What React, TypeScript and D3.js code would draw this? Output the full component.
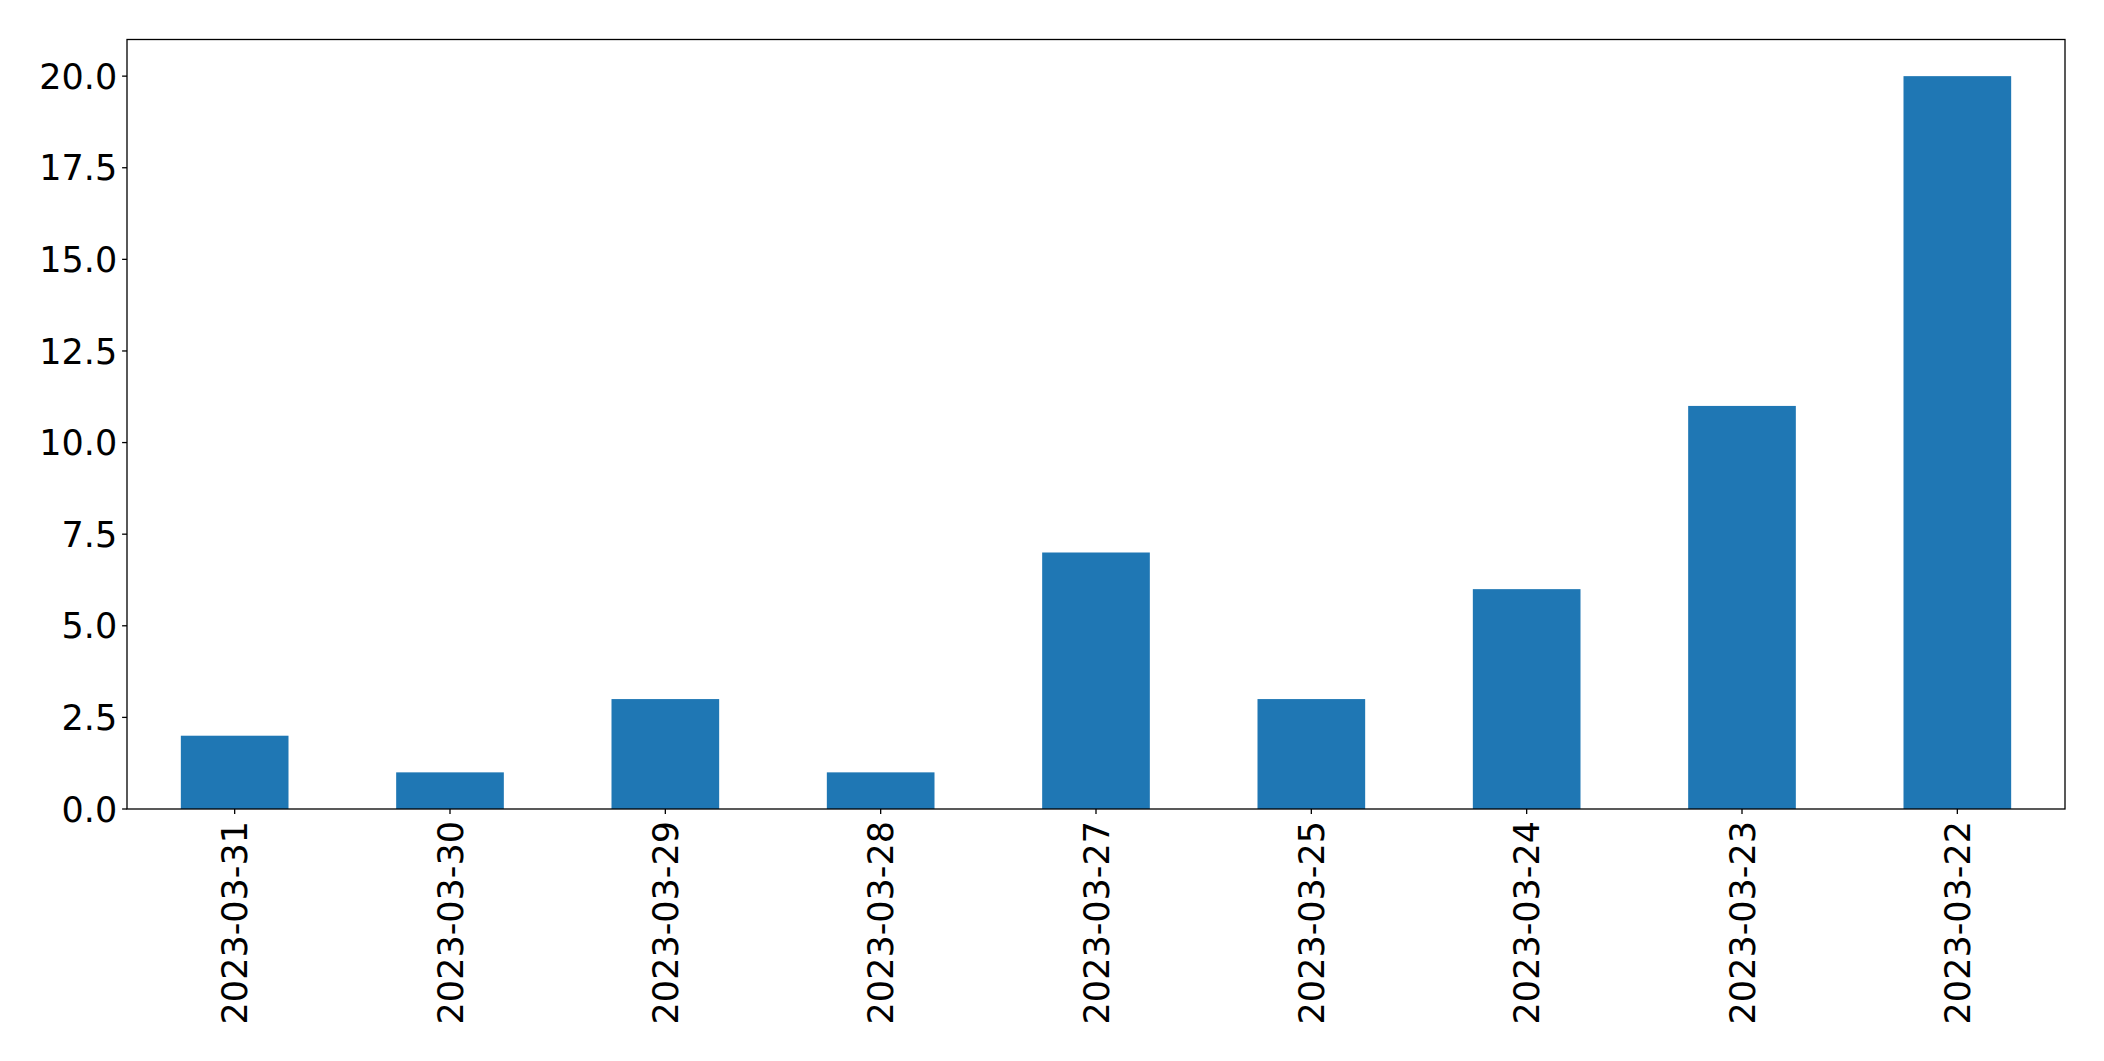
import React from "react";
import * as d3 from "d3";

const categories = ["2023-03-31", "2023-03-30", "2023-03-29", "2023-03-28", "2023-03-27", "2023-03-25", "2023-03-24", "2023-03-23", "2023-03-22"];
const values = [2, 1, 3, 1, 7, 3, 6, 11, 20];
const yTicks = [0, 2.5, 5, 7.5, 10, 12.5, 15, 17.5, 20];

export default function App() {
  const W = 2104, H = 1061;
  const left = 127, right = 2065, top = 39.5, bottom = 809;
  const x = d3.scaleBand<string>().domain(categories).range([left, right]).paddingInner(0.5).paddingOuter(0.25);
  const y = d3.scaleLinear().domain([0, 21]).range([bottom, top]);
  const font = "DejaVu Sans";
  const fs = 35;
  return (
    <svg width={W} height={H} style={{ position: "absolute", left: 0, top: 0, background: "#fff" }}>
      <rect x={0} y={0} width={W} height={H} fill="#fff" />
      {categories.map((c, i) => (
        <rect key={c} x={x(c)!} y={y(values[i])} width={x.bandwidth()} height={y(0) - y(values[i])} fill="#1f77b4" />
      ))}
      <rect x={left} y={top} width={right - left} height={bottom - top} fill="none" stroke="#000" strokeWidth={1.3} />
      {yTicks.map((t) => (
        <g key={t}>
          <line x1={left - 4.9} x2={left} y1={y(t)} y2={y(t)} stroke="#000" strokeWidth={1.3} />
          <text x={left - 9.8} y={y(t)} dy="0.36em" textAnchor="end" fontFamily={font} fontSize={fs} fill="#000">
            {t.toFixed(1)}
          </text>
        </g>
      ))}
      {categories.map((c) => {
        const cx = x(c)! + x.bandwidth() / 2;
        return (
          <g key={c}>
            <line x1={cx} x2={cx} y1={bottom} y2={bottom + 4.9} stroke="#000" strokeWidth={1.3} />
            <text transform={`translate(${cx},${bottom + 12}) rotate(-90)`} textAnchor="end" dy="0.36em" fontFamily={font} fontSize={fs} fill="#000">
              {c}
            </text>
          </g>
        );
      })}
    </svg>
  );
}
